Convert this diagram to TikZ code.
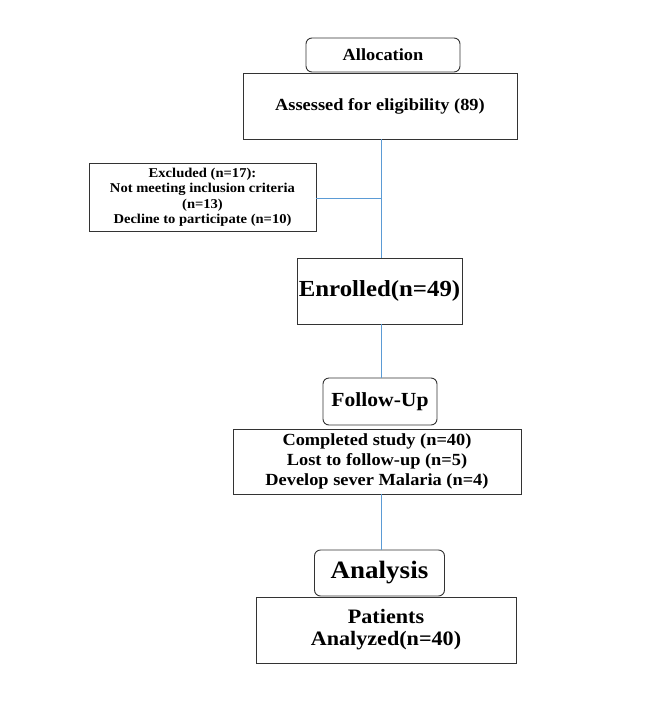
\documentclass[tikz,border=0pt]{standalone}
\usepackage{fontspec}
\setmainfont[FakeStretch=1.08]{Liberation Serif}
\newcommand{\fs}[2]{\bfseries\fontsize{#1}{#2}\selectfont}
\begin{document}
\begin{tikzpicture}[x=1pt,y=-1pt,
  box/.style={draw=black!80,line width=0.9pt,fill=white,inner sep=0pt,align=center},
  rbox/.style={box,rounded corners=6pt}]
\tikzset{link/.style={draw={rgb,255:red,91;green,155;blue,213},line width=1pt}}
\useasboundingbox[fill=white] (0,0) rectangle (657,721);
\node[rbox,minimum width=154pt,minimum height=34pt,font=\fs{17}{19}] (alloc) at (383,55) {Allocation};
\node[box,minimum width=274pt,minimum height=66pt,font=\fs{17}{19}] (assess) at (380,106) {Assessed for eligibility (89)};
\node[box,minimum width=227pt,minimum height=68pt,font=\fs{13.5}{15.5}] (excl) at (202.5,197) {Excluded (n=17):\\Not meeting inclusion criteria\\(n=13)\\Decline to participate (n=10)};
\node[box,minimum width=165pt,minimum height=66pt,font=\fs{23}{25}] (enrol) at (379.5,291) {Enrolled(n=49)};
\node[rbox,minimum width=114pt,minimum height=47pt,font=\fs{20}{22}] (follow) at (380,401.5) {Follow-Up};
\node[box,minimum width=288pt,minimum height=65pt,font=\fs{17}{20}] (compl) at (377,461.5) {Completed study (n=40)\\Lost to follow-up (n=5)\\Develop sever Malaria (n=4)};
\node[rbox,minimum width=130pt,minimum height=46pt,font=\fs{25}{27}] (anal) at (379.5,573) {Analysis};
\node[box,minimum width=260pt,minimum height=66pt,font=\fs{20.5}{22}] (pat) at (386,630) {Patients\\Analyzed(n=40)};
\coordinate (j) at (381,198);
\draw[link] (assess.south -| j) -- (enrol.north -| j);
\draw[link] (excl.east |- j) -- (j);
\draw[link] (enrol.south -| j) -- (follow.north -| j);
\draw[link] (compl.south -| j) -- (anal.north -| j);
\end{tikzpicture}
\end{document}
